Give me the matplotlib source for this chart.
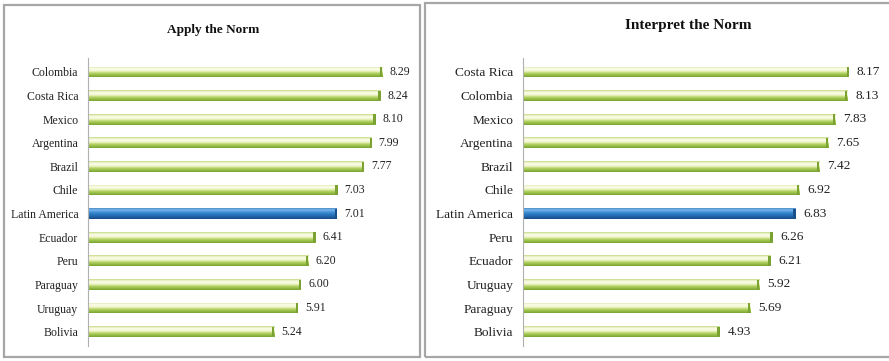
import numpy as np
import matplotlib.pyplot as plt
from matplotlib.patches import Rectangle
from matplotlib.colors import LinearSegmentedColormap

plt.rcParams['font.family'] = ['Liberation Serif', 'DejaVu Serif']

apply_countries = ["Colombia", "Costa Rica", "Mexico", "Argentina", "Brazil", "Chile",
                   "Latin America", "Ecuador", "Peru", "Paraguay", "Uruguay", "Bolivia"]
apply_values = [8.29, 8.24, 8.10, 7.99, 7.77, 7.03, 7.01, 6.41, 6.20, 6.00, 5.91, 5.24]

interp_countries = ["Costa Rica", "Colombia", "Mexico", "Argentina", "Brazil", "Chile",
                    "Latin America", "Peru", "Ecuador", "Uruguay", "Paraguay", "Bolivia"]
interp_values = [8.17, 8.13, 7.83, 7.65, 7.42, 6.92, 6.83, 6.26, 6.21, 5.92, 5.69, 4.93]

# cylinder-like shading, top of bar -> bottom of bar
green_cm = LinearSegmentedColormap.from_list(
    "green_cyl", ["#c2d884", "#f6f8dc", "#fbfce8", "#e6efb4", "#b0d060", "#94bc44", "#7aa232"])
blue_cm = LinearSegmentedColormap.from_list(
    "blue_cyl", ["#4a8ccc", "#7ab8ea", "#4c98dc", "#2f80c8", "#2670b8", "#1e5ea0", "#184c84"])
grad = np.linspace(0, 1, 64).reshape(-1, 1)

W, H = 889, 361
fig = plt.figure(figsize=(W / 100, H / 100), dpi=100)

# panel frames
for (x0, y0, x1, y1) in [(4, 5, 420, 357), (425, 3, 892, 357)]:
    fig.add_artist(Rectangle((x0 / W, 1 - y1 / H), (x1 - x0) / W, (y1 - y0) / H,
                             transform=fig.transFigure, fill=False,
                             edgecolor="#a6a6a6", linewidth=1.6))


def draw_panel(left_px, scale, countries, values, title, title_x, title_y, fs, tfs):
    n = len(countries)
    step = 23.6
    top = 72 - 0.6 * step
    height = (n + 0.2) * step
    width = 9.0 * scale
    ax = fig.add_axes([left_px / W, 1 - (top + height) / H, width / W, height / H])
    ypos = np.arange(n)
    bars = ax.barh(ypos, values, height=0.46, color="none", edgecolor="none")
    for i, (b, v) in enumerate(zip(bars, values)):
        blue = countries[i] == "Latin America"
        cm = blue_cm if blue else green_cm
        x, y = b.get_x(), b.get_y()
        w, h = b.get_width(), b.get_height()
        im = ax.imshow(grad, cmap=cm, aspect="auto", extent=(x, x + w, y + h, y),
                       interpolation="bilinear", zorder=2)
        im.set_clip_path(b)
        # darker end cap
        ax.add_patch(Rectangle((x + w - 0.06, y + 0.03), 0.06, h - 0.06,
                               color="#1a4f8a" if blue else "#7aa232",
                               zorder=3, linewidth=0))
        ax.text(v + 0.2, i, f"{v:.2f}", va="center", ha="left", fontsize=fs, color="#222222")
    ax.set_xlim(0, 9)
    ax.set_ylim(n - 0.4, -0.6)
    ax.set_yticks(ypos)
    ax.set_yticklabels(countries, fontsize=fs, color="#222222")
    ax.tick_params(axis="y", length=0, pad=7)
    ax.set_xticks([])
    for s in ["top", "right", "bottom"]:
        ax.spines[s].set_visible(False)
    ax.spines["left"].set_color("#b0b0b0")
    ax.spines["left"].set_linewidth(0.8)
    ax.patch.set_alpha(0)
    fig.text(title_x / W, 1 - title_y / H, title, ha="center", va="center",
             fontsize=tfs, fontweight="bold", color="#111111")
    return ax


draw_panel(88, 35.5, apply_countries, apply_values, "Apply the Norm", 213, 30, 8.5, 9.5)
draw_panel(523, 39.9, interp_countries, interp_values, "Interpret the Norm", 688, 25, 9.6, 11)

fig.savefig("out.png", dpi=100)
